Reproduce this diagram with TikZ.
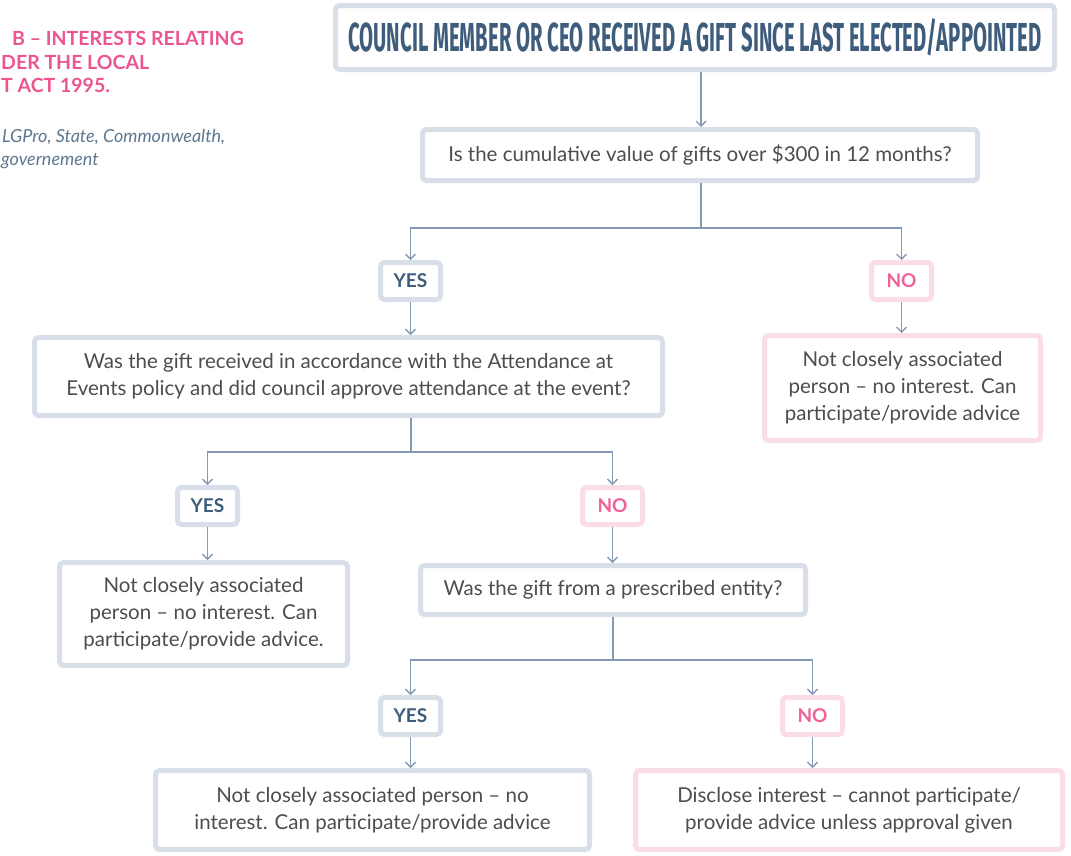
\documentclass[tikz,border=0pt]{standalone}
\usepackage{fontspec}
\setmainfont{Lato}
\newfontfamily\titlefont{Fira Sans}
\usetikzlibrary{arrows.meta}
\definecolor{bluebd}{HTML}{D8DFE9}
\definecolor{pinkbd}{HTML}{FBDDE6}
\definecolor{txt}{HTML}{4D4D4D}
\definecolor{navy}{HTML}{3E5C7C}
\definecolor{pinktx}{HTML}{F0609A}
\definecolor{connc}{HTML}{8499B3}
\definecolor{headpink}{HTML}{EC5592}
\definecolor{headgrey}{HTML}{5E7891}
\begin{document}
\begin{tikzpicture}[x=1pt,y=-1pt,
 box/.style={draw=bluebd,line width=5pt,rounded corners=4pt,fill=white,text=txt,align=center,font=\fontsize{20.5}{27}\selectfont,inner sep=0pt},
 pbox/.style={box,draw=pinkbd},
 yesbox/.style={box,minimum width=60pt,minimum height=37pt,text=navy,font=\fontsize{19}{20}\selectfont\bfseries},
 nobox/.style={yesbox,draw=pinkbd,text=pinktx},
 conn/.style={draw=connc,line width=1.4pt},
 arr/.style={conn,-{Straight Barb[length=5pt,width=10pt]}},
 headp/.style={text=headpink,font=\fontsize{19.5}{20}\selectfont\bfseries,inner sep=0pt},
 headg/.style={text=headgrey,font=\fontsize{18}{20}\selectfont\itshape,inner sep=0pt}
]
\useasboundingbox (0,0) rectangle (1071,855);
\fill[white] (0,0) rectangle (1071,855);

% header at left
\node[headp,anchor=base west] (h1) at (12,45) {B – INTERESTS RELATING};
\node[headp,anchor=base west] (h2) at (1,69) {DER THE LOCAL};
\node[headp,anchor=base west] (h3) at (1,92) {T ACT 1995.};
\node[headg,anchor=base west] (g1) at (2,142) {LGPro, State, Commonwealth,};
\node[headg,anchor=base west] (g2) at (1,165) {governement};

% boxes
\node[box,minimum width=719pt,minimum height=64pt,text=navy] (title) at (695,37.5)
  {\resizebox{693pt}{33pt}{\titlefont\bfseries COUNCIL MEMBER OR CEO RECEIVED A GIFT SINCE LAST ELECTED/APPOINTED}};
\node[box,minimum width=555pt,minimum height=51pt] (q1) at (700,155)
  {Is the cumulative value of gifts over \$300 in 12 months?};
\node[yesbox] (yes1) at (410.5,281) {YES};
\node[nobox] (no1) at (901.5,281) {NO};
\node[box,minimum width=628pt,minimum height=78pt] (q2) at (348.5,376.5)
  {Was the gift received in accordance with the Attendance at\\Events policy and did council approve attendance at the event?};
\node[pbox,minimum width=276pt,minimum height=105pt] (r1) at (902.5,388)
  {Not closely associated\\person – no interest. Can\\participate/provide advice};
\node[yesbox] (yes2) at (207.5,506) {YES};
\node[nobox] (no2) at (612.5,506) {NO};
\node[box,minimum width=288pt,minimum height=103pt] (r2) at (203.5,614)
  {Not closely associated\\person – no interest. Can\\participate/provide advice.};
\node[box,minimum width=385pt,minimum height=49pt] (q3) at (613,590)
  {Was the gift from a prescribed entity?};
\node[yesbox] (yes3) at (410.5,716) {YES};
\node[nobox] (no3) at (812.5,716) {NO};
\node[box,minimum width=434pt,minimum height=79pt] (r3) at (372.5,810)
  {Not closely associated person – no\\interest. Can participate/provide advice};
\node[pbox,minimum width=427pt,minimum height=79pt] (r4) at (849,810)
  {Disclose interest – cannot participate/\\provide advice unless approval given};

% connectors
\draw[arr] (title.south -| 701,0) -- (q1.north -| 701,0);
\coordinate (j1) at (701,228);
\draw[conn] (q1.south -| j1) -- (j1);
\draw[arr] (j1) -| (yes1.north);
\draw[arr] (j1) -| (no1.north);
\draw[arr] (yes1.south) -- (yes1.south |- q2.north);
\draw[arr] (no1.south) -- (no1.south |- r1.north);
\coordinate (j2) at (411,452);
\draw[conn] (q2.south -| j2) -- (j2);
\draw[arr] (j2) -| (yes2.north);
\draw[arr] (j2) -| (no2.north);
\draw[arr] (yes2.south) -- (yes2.south |- r2.north);
\draw[arr] (no2.south) -- (no2.south |- q3.north);
\coordinate (j3) at (613,660);
\draw[conn] (q3.south -| j3) -- (j3);
\draw[arr] (j3) -| (yes3.north);
\draw[arr] (j3) -| (no3.north);
\draw[arr] (yes3.south) -- (yes3.south |- r3.north);
\draw[arr] (no3.south) -- (no3.south |- r4.north);
\end{tikzpicture}
\end{document}
